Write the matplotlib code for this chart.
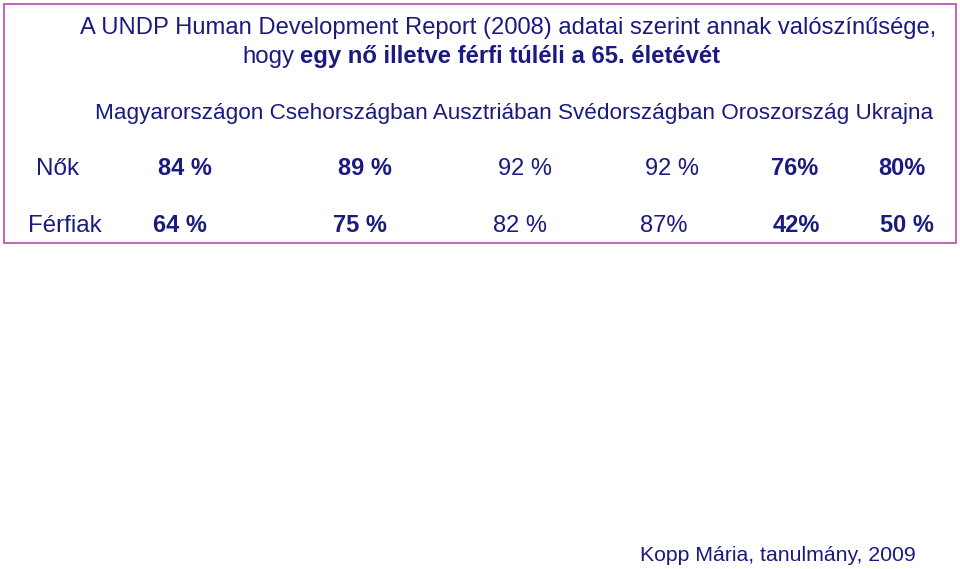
import matplotlib
matplotlib.use("Agg")
import matplotlib.pyplot as plt
from matplotlib.patches import Rectangle

countries = ["Magyarországon", "Csehországban", "Ausztriában", "Svédországban", "Oroszország", "Ukrajna"]
women = [84, 89, 92, 92, 76, 80]
men = [64, 75, 82, 87, 42, 50]
women_sep = [" ", " ", " ", " ", "", ""]
men_sep = [" ", " ", " ", "", "", " "]
women_bold = [True, True, False, False, True, True]
men_bold = [True, True, False, False, True, True]
row_labels = ["Nők", "Férfiak"]

NAVY = "#1a1a80"
BORDER = "#c06ab8"
FONT = "Liberation Sans"

fig = plt.figure(figsize=(9.6, 5.69), dpi=100)
ax = fig.add_axes([0, 0, 1, 1])
ax.set_xlim(0, 960)
ax.set_ylim(569, 0)
ax.axis("off")

ax.add_patch(Rectangle((4, 4), 952, 239, fill=False, edgecolor=BORDER, linewidth=1.5))

def t(x, y, s, bold=False, ha="left", fs=17):
    ax.text(x, y, s, fontsize=fs, family=FONT, color=NAVY, ha=ha, va="baseline",
            fontweight="bold" if bold else "normal")

t(80, 34, "A UNDP Human Development Report (2008) adatai szerint annak valószínűsége,", fs=17.15)
t(242, 63, "hogy", fs=17.3)
t(300, 63, "egy nő illetve férfi túléli a 65. életévét", bold=True, fs=17.2)

t(95, 119, " ".join(countries), fs=16.2)

wx = [158, 338, 498, 645, 771, 878]
mx = [153, 333, 493, 640, 773, 880]

t(36, 175, row_labels[0], fs=17.5)
t(28, 232, row_labels[1], fs=17.3)
for i in range(len(countries)):
    t(wx[i], 175, f"{women[i]}{women_sep[i]}%", bold=women_bold[i])
    t(mx[i], 232, f"{men[i]}{men_sep[i]}%", bold=men_bold[i])

t(640, 561, "Kopp Mária, tanulmány, 2009", fs=15.3)

fig.savefig("out.png", dpi=100, facecolor="white")
